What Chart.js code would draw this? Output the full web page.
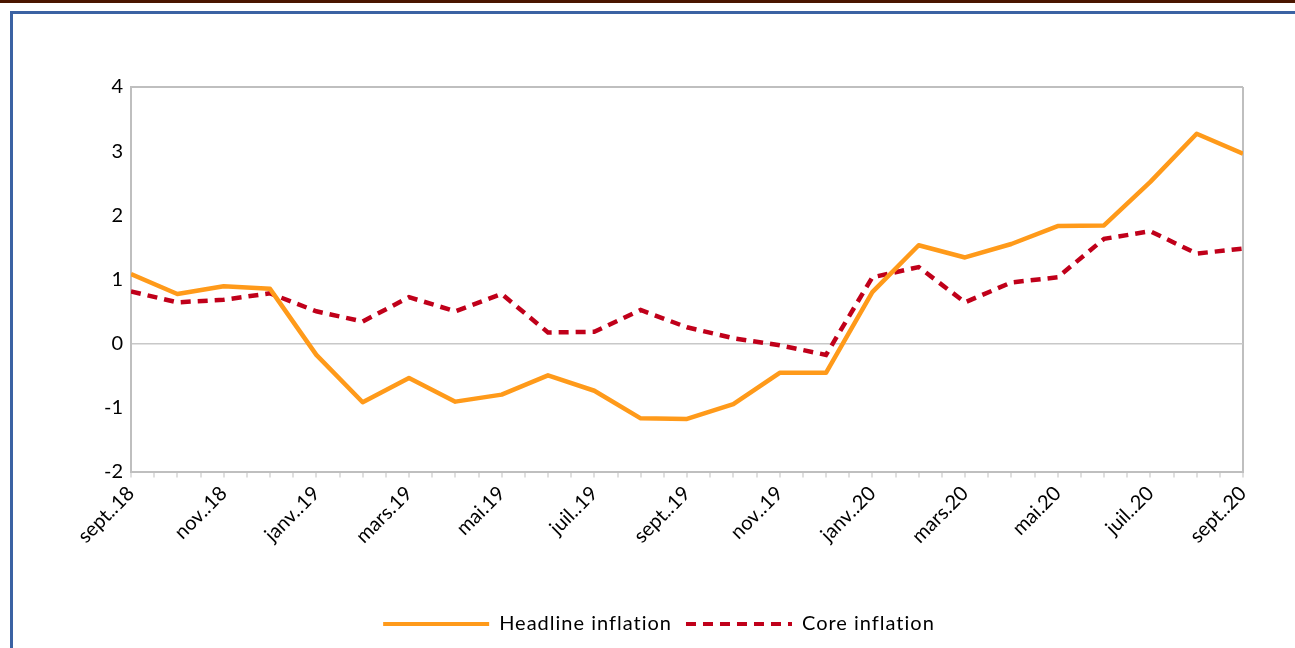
<!DOCTYPE html>
<html><head><meta charset="utf-8">
<script src="https://cdn.jsdelivr.net/npm/chart.js@4.4.0/dist/chart.umd.min.js"></script>
<style>
html,body{margin:0;padding:0;background:#fff;overflow:hidden;width:1295px;height:648px;}
#topbar{position:absolute;left:0;top:0;width:1295px;height:3px;background:#4A1600;}
#frame{position:absolute;left:10px;top:11px;width:1300px;height:700px;border:3px solid #3B62A3;box-sizing:border-box;}
#wrap{position:absolute;left:0;top:0;width:1295px;height:648px;}
</style></head>
<body>
<div id="topbar"></div><div id="frame"></div>
<div id="wrap"><canvas id="c" width="1295" height="648"></canvas></div>
<script>
const months = ['sept..18','oct..18','nov..18','déc..18','janv..19','févr..19','mars.19','avr..19','mai.19','juin.19','juil..19','août.19','sept..19','oct..19','nov..19','déc..19','janv..20','févr..20','mars.20','avr..20','mai.20','juin.20','juil..20','août.20','sept..20'];
const headline = [1.08,0.77,0.89,0.85,-0.18,-0.92,-0.54,-0.91,-0.80,-0.50,-0.74,-1.17,-1.18,-0.95,-0.46,-0.46,0.80,1.53,1.34,1.55,1.83,1.84,2.52,3.27,2.96];
const core = [0.81,0.64,0.68,0.78,0.50,0.34,0.72,0.50,0.77,0.17,0.18,0.52,0.25,0.08,-0.03,-0.18,1.03,1.19,0.64,0.95,1.03,1.63,1.75,1.40,1.48];
const yMin = -2, yMax = 4, yStep = 1;
const seriesNames = ['Headline inflation','Core inflation'];

const FONT = 'Lato, "Open Sans", sans-serif';
const GRAY = '#BFBFBF';

const legendSpacing = {
  id:'legendSpacing',
  beforeLayout(chart){
    const lg = chart.legend;
    if (!lg || lg._patched) return;
    lg._patched = true;
    const wrap = (fn) => function(){
      const ctx = this.ctx; const prev = ctx.letterSpacing;
      ctx.letterSpacing = '1px';
      const r = fn.apply(this, arguments);
      ctx.letterSpacing = prev || '0px';
      return r;
    };
    lg.fit = wrap(lg.fit);
    lg.draw = wrap(lg.draw);
  }
};

new Chart(document.getElementById('c'), {
  type: 'line',
  data: {
    datasets: [
      {label: seriesNames[0], data: headline.map((v,i)=>({x:i,y:v})), borderColor:'#FF9A1A', backgroundColor:'#FF9A1A', borderWidth:4.5, pointRadius:0, tension:0, borderJoinStyle:'round'},
      {label: seriesNames[1], data: core.map((v,i)=>({x:i,y:v})), borderColor:'#C0001A', backgroundColor:'#C0001A', borderWidth:4.5, borderDash:[10,7], pointRadius:0, tension:0}
    ]
  },
  plugins:[legendSpacing],
  options: {
    responsive:false, animation:false,
    layout:{padding:{top:87,left:75,right:52,bottom:4}},
    plugins:{
      tooltip:{enabled:false},
      legend:{position:'bottom', labels:{usePointStyle:true, pointStyle:'line', pointStyleWidth:106, padding:14, color:'#000', font:{family:FONT,size:20},
        generateLabels:(chart)=>{
          const items = Chart.defaults.plugins.legend.labels.generateLabels(chart);
          items.forEach(it=>{
            const ds = chart.data.datasets[it.datasetIndex];
            it.lineDash = ds.borderDash || [];
            it.lineWidth = 4;
            it.strokeStyle = ds.borderColor;
            it.fillStyle = ds.borderColor;
            it.pointStyle = 'line';
          });
          return items;
        }}}
    },
    scales:{
      x:{type:'linear', min:0, max:months.length-1,
        afterFit:s=>{s.height=128.5;},
        ticks:{stepSize:0.5, autoSkip:false, maxRotation:45, minRotation:45, padding:4, color:'#000', font:{family:FONT,size:20},
          callback:(v)=> (Number.isInteger(v) && v%2===0) ? months[v] : ''},
        grid:{color:c=> (c.tick && c.tick.value===months.length-1) ? GRAY : 'rgba(0,0,0,0)', lineWidth:2, tickColor:GRAY, tickWidth:1, tickLength:6},
        border:{display:true, color:GRAY, width:2}
      },
      y:{min:yMin, max:yMax,
        afterFit:s=>{s.width=56;},
        ticks:{stepSize:yStep, padding:8, color:'#000', font:{family:FONT,size:20}},
        grid:{color:c=> c.tick.value===0 ? '#C8C8C8' : (c.tick.value===yMax ? GRAY : 'rgba(0,0,0,0)'), lineWidth:c=> c.tick.value===yMax ? 2 : 1.5, drawTicks:false},
        border:{display:true, color:GRAY, width:2}
      }
    }
  }
});
</script>
</body></html>
